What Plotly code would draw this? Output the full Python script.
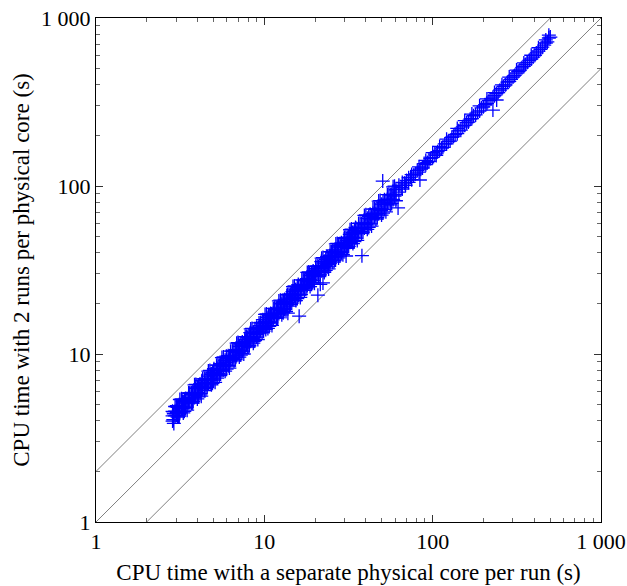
import plotly.graph_objects as go

# Dense part of the cloud (x, y)
x_dense = [2.85, 2.85, 2.85, 2.95, 2.95, 2.95, 3.05, 3.05, 3.05, 3.15, 3.15, 3.15,
           3.3, 3.3, 3.3, 3.4, 3.4, 3.4, 3.55, 3.55, 3.55, 3.7, 3.7, 3.7,
           3.85, 3.85, 3.85, 4.0, 4.0, 4.0, 4.15, 4.15, 4.15, 4.3, 4.3, 4.3,
           4.5, 4.5, 4.5, 4.65, 4.65, 4.65, 4.85, 4.85, 4.85, 5.0, 5.0, 5.0,
           5.2, 5.2, 5.2, 5.4, 5.4, 5.4, 5.6, 5.6, 5.6, 5.85, 5.85, 5.85,
           6.1, 6.1, 6.1, 6.3, 6.3, 6.3, 6.6, 6.6, 6.6, 6.85, 6.85, 6.85,
           7.1, 7.1, 7.1, 7.4, 7.4, 7.4, 7.7, 7.7, 7.7, 8.0, 8.0, 8.0,
           8.3, 8.3, 8.3, 8.6, 8.6, 8.6, 9.0, 9.0, 9.0, 9.3, 9.3, 9.3,
           9.7, 9.7, 9.7, 10.1, 10.1, 10.1, 10.5, 10.5, 10.5, 10.9, 10.9, 10.9,
           11.3, 11.3, 11.3, 11.8, 11.8, 11.8, 12.2, 12.2, 12.2, 12.7, 12.7, 12.7,
           13.2, 13.2, 13.2, 13.7, 13.7, 13.7, 14.3, 14.3, 14.3, 14.8, 14.8, 14.8,
           15.4, 15.4, 15.4, 16.0, 16.0, 16.0, 16.7, 16.7, 16.7, 17.3, 17.3, 17.3,
           18.0, 18.0, 18.0, 18.7, 18.7, 18.7, 19.5, 19.5, 19.5, 20.2, 20.2, 20.2,
           21.0, 21.0, 21.0, 21.9, 21.9, 21.9, 22.7, 22.7, 22.7, 23.6, 23.6, 23.6,
           24.6, 24.6, 24.6, 25.5, 25.5, 25.5, 26.6, 26.6, 26.6, 27.6, 27.6, 27.6,
           28.7, 28.7, 28.7, 29.9, 29.9, 29.9, 31.1, 31.1, 31.1, 32.3, 32.3, 32.3,
           33.6, 33.6, 33.6, 35.0, 35.0, 35.0, 36.3, 36.3, 36.3, 37.8, 37.8, 37.8,
           39.3, 39.3, 39.3, 40.9, 40.9, 40.9, 42.5, 42.5, 42.5, 44.2, 44.2, 44.2,
           46.0, 46.0, 46.0, 47.8, 47.8, 47.8, 49.7, 49.7, 49.7, 51.7, 51.7, 51.7,
           53.8, 53.8, 53.8, 56.0, 56.0, 56.0, 58.2, 58.2, 58.2, 60.5, 60.5, 60.5]
y_dense = [3.99, 4.28, 4.56, 4.28, 4.57, 4.87, 4.21, 4.51, 4.82, 4.50, 4.82, 5.36,
           4.46, 4.85, 5.18, 4.76, 5.10, 5.44, 5.15, 5.50, 5.86, 5.11, 5.48, 5.85,
           5.51, 5.89, 6.55, 5.40, 5.88, 6.28, 5.81, 6.23, 6.64, 6.24, 6.67, 7.10,
           6.21, 6.66, 7.11, 6.65, 7.11, 7.91, 6.55, 7.13, 7.61, 7.00, 7.50, 8.00,
           7.54, 8.06, 8.58, 7.45, 7.99, 8.53, 8.01, 8.57, 9.52, 7.90, 8.60, 9.18,
           8.54, 9.15, 9.76, 9.14, 9.77, 10.4, 9.11, 9.77, 10.4, 9.80, 10.5, 11.6,
           9.59, 10.4, 11.1, 10.4, 11.1, 11.8, 11.2, 11.9, 12.7, 11.0, 11.8, 12.6,
           11.9, 12.7, 14.1, 11.6, 12.6, 13.5, 12.6, 13.5, 14.4, 13.5, 14.4, 15.3,
           13.4, 14.4, 15.3, 14.4, 15.5, 17.2, 14.2, 15.4, 16.5, 15.3, 16.4, 17.4,
           16.4, 17.5, 18.6, 16.3, 17.5, 18.6, 17.4, 18.7, 20.7, 17.1, 18.7, 19.9,
           18.5, 19.8, 21.1, 19.9, 21.2, 22.6, 19.7, 21.2, 22.6, 21.2, 22.6, 25.2,
           20.8, 22.6, 24.2, 22.4, 24.0, 25.6, 24.2, 25.9, 27.6, 23.9, 25.6, 27.3,
           25.7, 27.5, 30.6, 25.2, 27.5, 29.4, 27.3, 29.3, 31.2, 29.3, 31.3, 33.3,
           29.0, 31.1, 33.2, 31.3, 33.5, 37.2, 30.6, 33.4, 35.6, 33.0, 35.4, 37.8,
           35.7, 38.1, 40.6, 35.2, 37.7, 40.3, 38.0, 40.7, 45.2, 37.3, 40.6, 43.3,
           40.2, 43.1, 45.9, 43.4, 46.3, 49.3, 42.9, 46.0, 49.1, 46.2, 49.4, 54.9,
           45.4, 49.4, 52.8, 49.0, 52.5, 56.0, 52.6, 56.3, 59.9, 52.2, 55.9, 59.7,
           56.2, 60.1, 66.8, 55.2, 60.1, 64.2, 59.5, 63.8, 68.0, 64.1, 68.5, 72.9,
           63.5, 68.1, 72.7, 68.4, 73.1, 81.3, 67.1, 73.1, 78.0, 72.4, 77.6, 82.7,
           78.0, 83.4, 88.8, 77.3, 82.9, 88.5, 83.2, 89.0, 98.9, 81.7, 88.9, 95.0]

# Second set of cloud points, in between the first
x_dense2 = [2.9, 2.9, 3.0, 3.0, 3.1, 3.1, 3.22, 3.22, 3.35, 3.35, 3.48, 3.48,
            3.62, 3.62, 3.78, 3.78, 3.92, 3.92, 4.08, 4.08, 4.22, 4.22, 4.4, 4.4,
            4.58, 4.58, 4.75, 4.75, 4.92, 4.92, 5.1, 5.1, 5.3, 5.3, 5.5, 5.5,
            5.72, 5.72, 5.97, 5.97, 6.2, 6.2, 6.45, 6.45, 6.72, 6.72, 6.97, 6.97,
            7.25, 7.25, 7.55, 7.55, 7.85, 7.85, 8.15, 8.15, 8.45, 8.45, 8.8, 8.8,
            9.15, 9.15, 9.5, 9.5, 9.9, 9.9, 10.3, 10.3, 10.7, 10.7, 11.1, 11.1,
            11.55, 11.55, 12.0, 12.0, 12.45, 12.45, 12.95, 12.95, 13.45, 13.45, 14.0, 14.0,
            14.55, 14.55, 15.1, 15.1, 15.7, 15.7, 16.35, 16.35, 17.0, 17.0, 17.65, 17.65,
            18.35, 18.35, 19.1, 19.1, 19.85, 19.85, 20.6, 20.6, 21.45, 21.45, 22.3, 22.3,
            23.15, 23.15, 24.1, 24.1, 25.05, 25.05, 26.05, 26.05, 27.1, 27.1, 28.15, 28.15,
            29.3, 29.3, 30.5, 30.5, 31.7, 31.7, 32.95, 32.95, 34.3, 34.3, 35.65, 35.65,
            37.05, 37.05, 38.55, 38.55, 40.1, 40.1, 41.7, 41.7, 43.35, 43.35, 45.1, 45.1,
            46.9, 46.9, 48.75, 48.75, 50.7, 50.7, 52.75, 52.75, 54.9, 54.9, 57.1, 57.1,
            59.35, 59.35]
y_dense2 = [3.86, 4.41, 4.32, 4.86, 4.28, 4.84, 4.73, 5.41, 4.56, 5.29, 4.63, 5.29,
            5.21, 5.86, 5.22, 5.90, 5.76, 6.59, 5.55, 6.45, 5.61, 6.41, 6.34, 7.13,
            6.32, 7.14, 6.98, 7.98, 6.69, 7.77, 6.78, 7.75, 7.63, 8.59, 7.59, 8.58,
            8.41, 9.61, 8.12, 9.43, 8.25, 9.42, 9.29, 10.4, 9.27, 10.5, 10.2, 11.7,
            9.86, 11.5, 10.0, 11.5, 11.3, 12.7, 11.2, 12.7, 12.4, 14.2, 12.0, 13.9,
            12.2, 13.9, 13.7, 15.4, 13.7, 15.4, 15.1, 17.3, 14.6, 16.9, 14.8, 16.9,
            16.6, 18.7, 16.6, 18.7, 18.3, 20.9, 17.6, 20.5, 17.9, 20.4, 20.2, 22.7,
            20.1, 22.7, 22.2, 25.4, 21.4, 24.8, 21.7, 24.9, 24.5, 27.5, 24.4, 27.5,
            27.0, 30.8, 26.0, 30.2, 26.4, 30.2, 29.7, 33.4, 29.6, 33.5, 32.8, 37.5,
            31.5, 36.6, 32.1, 36.6, 36.1, 40.6, 35.9, 40.6, 39.8, 45.5, 38.3, 44.5,
            39.0, 44.5, 43.9, 49.4, 43.7, 49.5, 48.4, 55.4, 46.6, 54.2, 47.4, 54.2,
            53.4, 60.0, 53.2, 60.1, 58.9, 67.4, 56.7, 65.9, 57.7, 65.9, 64.9, 73.1,
            64.7, 73.2, 71.7, 81.9, 69.0, 80.1, 70.2, 80.2, 79.1, 88.9, 78.8, 89.1,
            87.2, 99.7]

# Third set of cloud points, filling the dense lower part
x_dense3 = [2.88, 2.88, 3.02, 3.02, 3.12, 3.12, 3.27, 3.27, 3.42, 3.42, 3.58, 3.58,
            3.74, 3.74, 3.9, 3.9, 4.05, 4.05, 4.25, 4.25, 4.42, 4.42, 4.62, 4.62,
            4.8, 4.8, 5.02, 5.02, 5.25, 5.25, 5.47, 5.47, 5.7, 5.7, 5.95, 5.95,
            6.18, 6.18, 6.5, 6.5, 6.78, 6.78, 7.05, 7.05, 7.35, 7.35, 7.65, 7.65,
            7.95, 7.95, 8.25, 8.25, 8.65, 8.65, 9.0, 9.0, 9.4, 9.4, 9.8, 9.8,
            10.2, 10.2, 10.6, 10.6, 11.0, 11.0, 11.5, 11.5, 12.0, 12.0, 12.5, 12.5,
            13.0, 13.0, 13.6, 13.6, 14.1, 14.1, 14.7, 14.7, 15.3, 15.3, 15.9, 15.9,
            16.5, 16.5, 17.2, 17.2, 17.9, 17.9, 18.6, 18.6, 19.4, 19.4, 20.2, 20.2,
            21.0, 21.0, 21.8, 21.8, 22.7, 22.7, 23.6, 23.6, 24.5, 24.5, 25.5, 25.5,
            26.5, 26.5, 27.5, 27.5, 28.6, 28.6, 29.8, 29.8, 31.0, 31.0, 32.2, 32.2,
            33.5, 33.5, 34.8, 34.8]
y_dense3 = [4.06, 4.52, 4.50, 4.92, 4.27, 4.77, 4.74, 5.23, 4.82, 5.37, 5.33, 5.84,
            5.12, 5.72, 5.66, 6.24, 5.71, 6.36, 6.33, 6.93, 6.06, 6.76, 6.70, 7.39,
            6.77, 7.54, 7.48, 8.18, 7.19, 8.03, 7.93, 8.75, 8.04, 8.95, 8.87, 9.70,
            8.47, 9.46, 9.43, 10.4, 9.56, 10.6, 10.5, 11.5, 10.1, 11.2, 11.1, 12.2,
            11.2, 12.5, 12.3, 13.4, 11.9, 13.2, 13.1, 14.4, 13.3, 14.8, 14.6, 16.0,
            14.0, 15.6, 15.4, 17.0, 15.5, 17.3, 17.1, 18.7, 16.4, 18.4, 18.1, 20.0,
            18.3, 20.4, 20.3, 22.2, 19.3, 21.6, 21.3, 23.5, 21.6, 24.0, 23.7, 25.9,
            22.6, 25.2, 24.9, 27.5, 25.2, 28.1, 27.7, 30.3, 26.6, 29.7, 29.3, 32.3,
            29.6, 33.0, 32.5, 35.5, 31.1, 34.7, 34.2, 37.8, 34.5, 38.5, 38.0, 41.6,
            36.3, 40.5, 39.9, 44.0, 40.3, 44.9, 44.4, 48.6, 42.5, 47.4, 46.7, 51.5,
            47.2, 52.6, 51.9, 56.7]

# Sparser upper part of the cloud
x_upper = [63, 63, 66, 66, 69, 72, 72, 75, 75, 79, 83, 83, 87, 91, 91, 95, 100, 100,
           105, 110, 110, 115, 121, 121, 127, 133, 140, 140, 147, 155, 155, 163,
           171, 171, 180, 190, 190, 200, 210, 210, 222, 233, 233, 245, 258, 258,
           271, 285, 285, 300, 315, 315, 330, 348, 348, 365, 385, 385, 405, 425,
           425, 448, 470, 470, 490, 490,
           65, 68, 70, 74, 77, 81, 85, 89, 93, 97, 103, 107, 113, 118, 124, 130,
           136, 143, 151, 159, 167, 175, 185, 195, 205, 216, 228, 239, 251, 264,
           278, 292, 307, 322, 339, 356, 375, 395, 415, 437, 460, 480, 500]
y_upper = [92, 101, 96, 105, 101, 105, 112, 109, 117, 118, 121, 130, 128, 134, 142,
           140, 148, 158, 152, 163, 172, 170, 178, 190, 185, 198, 205, 220, 215,
           230, 245, 240, 252, 268, 265, 280, 300, 296, 310, 330, 330, 345, 360,
           360, 380, 400, 400, 420, 445, 445, 470, 490, 490, 515, 540, 545, 570,
           600, 600, 635, 665, 670, 710, 740, 760, 790,
           98, 104, 108, 113, 116, 124, 126, 136, 138, 146, 155, 160, 168, 178,
           184, 195, 203, 213, 225, 238, 250, 262, 275, 292, 305, 322, 338, 355,
           372, 392, 415, 432, 455, 480, 505, 528, 560, 585, 620, 650, 690, 720, 770]

# Outliers
x_out = [50.5, 38.0, 30.6, 20.8, 16.1, 22.3, 13.8, 62.3, 240, 228, 21.5, 84]
y_out = [107, 38.5, 38.3, 22.4, 16.8, 26.5, 17.5, 74, 325, 283, 26.0, 108.6]

# Reference lines y = 2x, y = x, y = x/2
ref_x = [[1, 500], [1, 1000], [2, 1000]]
ref_y = [[2, 1000], [1, 1000], [1, 500]]

tick_vals = [1, 10, 100, 1000]
tick_text = ["1", "10", "100", "1 000"]
minor_vals = [2, 3, 4, 5, 6, 7, 8, 9, 20, 30, 40, 50, 60, 70, 80, 90,
              200, 300, 400, 500, 600, 700, 800, 900]

fig = go.Figure()
for lx, ly in zip(ref_x, ref_y):
    fig.add_trace(go.Scatter(x=lx, y=ly, mode="lines",
                             line=dict(color="#808080", width=1),
                             hoverinfo="skip", showlegend=False))

xs = x_dense + x_dense2 + x_dense3 + x_upper + x_out
ys = y_dense + y_dense2 + y_dense3 + y_upper + y_out
fig.add_trace(go.Scatter(x=xs, y=ys, mode="markers", showlegend=False,
                         marker=dict(symbol="cross-thin", size=10,
                                     line=dict(color="#0000ff", width=1.3))))

FONT = "Liberation Serif"
axis_common = dict(
    type="log", range=[0, 3], tickmode="array", tickvals=tick_vals, ticktext=tick_text,
    ticks="inside", ticklen=7, tickwidth=0.8, tickcolor="#333",
    showline=True, linecolor="black", linewidth=1, mirror="ticks",
    showgrid=False, zeroline=False, automargin=False,
    minor=dict(tickvals=minor_vals, ticks="inside", ticklen=4, tickwidth=0.8,
               tickcolor="#666", showgrid=False),
    tickfont=dict(family=FONT, size=22, color="black"),
)

fig.update_xaxes(**axis_common,
                 title=dict(text="CPU time with a separate physical core per run (s)",
                            font=dict(family=FONT, size=23, color="black"),
                            standoff=10))
fig.update_yaxes(**axis_common,
                 title=dict(text="CPU time with 2 runs per physical core (s)",
                            font=dict(family=FONT, size=23, color="black"),
                            standoff=5))

fig.update_layout(width=627, height=586,
                  margin=dict(l=96, r=26, t=18, b=64),
                  plot_bgcolor="white", paper_bgcolor="white")

fig.write_html("out.html", config={"displayModeBar": False},
               post_script="document.body.style.margin='0';document.body.style.overflow='hidden';")
